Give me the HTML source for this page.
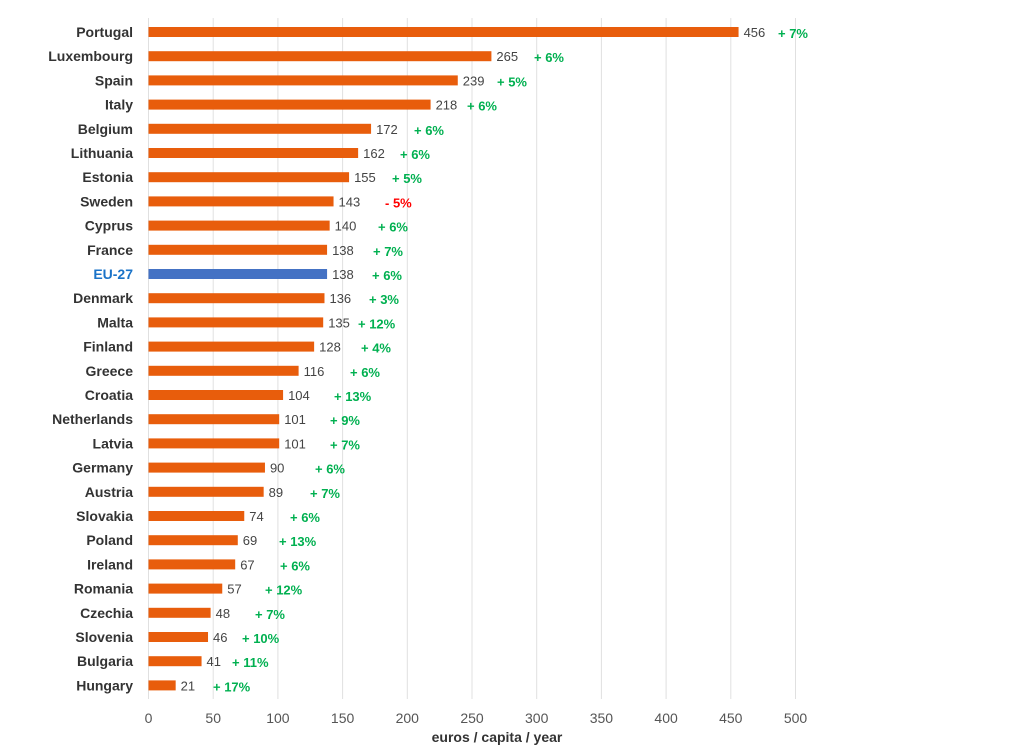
<!DOCTYPE html>
<html><head><meta charset="utf-8"><style>
body{margin:0;background:#fff}
svg{display:block;font-family:"Liberation Sans","DejaVu Sans",sans-serif}
.c{font-size:14px;font-weight:bold;fill:#333;text-anchor:end}
.v{font-size:13px;fill:#444}
.p{font-size:13px;font-weight:bold;fill:#00b050}
.t{font-size:14px;fill:#555;text-anchor:middle}
</style></head><body>
<svg width="1024" height="755" viewBox="0 0 1024 755">
<g id="grid" stroke="#e0e0e0" stroke-width="1"></g>
<g id="bars"></g>
<text x="497" y="742" text-anchor="middle" style="font-size:14px;font-weight:bold;fill:#333">euros / capita / year</text>
<script>
var d=[["Portugal",456,"+ 7%",778],["Luxembourg",265,"+ 6%",534],["Spain",239,"+ 5%",497],["Italy",218,"+ 6%",467],["Belgium",172,"+ 6%",414],["Lithuania",162,"+ 6%",400],["Estonia",155,"+ 5%",392],["Sweden",143,"- 5%",385],["Cyprus",140,"+ 6%",378],["France",138,"+ 7%",373],["EU-27",138,"+ 6%",372],["Denmark",136,"+ 3%",369],["Malta",135,"+ 12%",358],["Finland",128,"+ 4%",361],["Greece",116,"+ 6%",350],["Croatia",104,"+ 13%",334],["Netherlands",101,"+ 9%",330],["Latvia",101,"+ 7%",330],["Germany",90,"+ 6%",315],["Austria",89,"+ 7%",310],["Slovakia",74,"+ 6%",290],["Poland",69,"+ 13%",279],["Ireland",67,"+ 6%",280],["Romania",57,"+ 12%",265],["Czechia",48,"+ 7%",255],["Slovenia",46,"+ 10%",242],["Bulgaria",41,"+ 11%",232],["Hungary",21,"+ 17%",213]];
var ns="http://www.w3.org/2000/svg",x0=148.5,s=1.294;
function el(t,a,p,txt){var e=document.createElementNS(ns,t);for(var k in a)e.setAttribute(k,a[k]);if(txt!=null)e.textContent=txt;p.appendChild(e);return e;}
var g=document.getElementById("grid"),b=document.getElementById("bars"),svg=g.parentNode;
for(var i=0;i<=10;i++){var x=x0+i*50*s;el("line",{x1:x,x2:x,y1:18,y2:699},g);el("text",{x:x,y:723,"class":"t"},svg,String(i*50));}
d.forEach(function(r,i){var y=32+i*24.2;var eu=r[0]=="EU-27";
el("rect",{x:x0,y:y-5,width:r[1]*s,height:10,fill:eu?"#4472c4":"#e85d0c"},b);
var c=el("text",{x:133,y:y+5,"class":"c"},b,r[0]);if(eu)c.setAttribute("style","fill:#1a73c8");
el("text",{x:x0+r[1]*s+5,y:y+5,"class":"v"},b,String(r[1]));
var p=el("text",{x:r[3],y:y+6,"class":"p"},b,r[2]);if(r[2][0]=="-")p.setAttribute("style","fill:#ff0000");
});
</script>
</svg>
</body></html>
